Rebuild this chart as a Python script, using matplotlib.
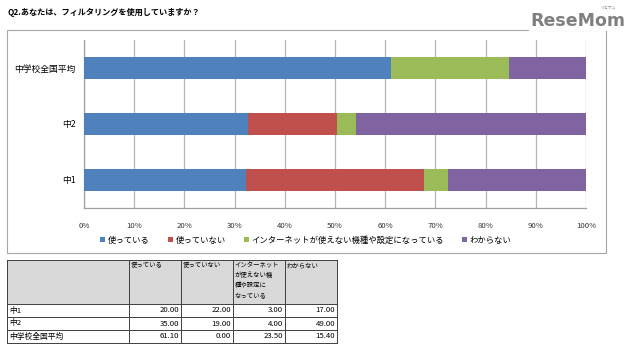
import matplotlib.pyplot as plt
from matplotlib.patches import Rectangle
import numpy as np

plt.rcParams['font.family'] = ['Noto Sans CJK JP', 'DejaVu Sans']

groups = ['中1', '中2', '中学校全国平均']
series = ['使っている', '使っていない', 'インターネットが使えない機種や設定になっている', 'わからない']
headers = ['使っている', '使っていない', 'インターネット\nが使えない機\n種や設定に\nなっている', 'わからない']
used = [20.00, 35.00, 61.10]
not_used = [22.00, 19.00, 0.00]
no_net = [3.00, 4.00, 23.50]
unknown = [17.00, 49.00, 15.40]
colors = ['#4F81BD', '#C0504D', '#9BBB59', '#8064A2']
xticks = [0, 10, 20, 30, 40, 50, 60, 70, 80, 90, 100]

vals = np.array([used, not_used, no_net, unknown])
shares = vals / vals.sum(axis=0) * 100

W, H = 640, 357
fig = plt.figure(figsize=(6.4, 3.57), dpi=100)

# overlay in pixel coords for frame, title, logo, table
ov = fig.add_axes([0, 0, 1, 1])
ov.set_xlim(0, W)
ov.set_ylim(H, 0)
ov.axis('off')

ov.add_patch(Rectangle((7, 30), 599, 223, fill=False, ec='#a6a6a6', lw=0.8))
ov.text(8, 12, 'Q2.あなたは、フィルタリングを使用していますか？', fontsize=5.9,
        fontweight='bold', va='center', ha='left')
ov.add_patch(Rectangle((529, 4), 98, 27, fc='white', ec='none'))
ov.text(578, 21, 'ReseMom', fontsize=12.5, fontweight='bold', color='#808080',
        ha='center', va='center', family=['DejaVu Sans'])
ov.text(608, 8, 'リセマム', fontsize=2.8, color='#808080', ha='center', va='center')

# chart
ax = fig.add_axes([84 / W, 1 - 208 / H, (586 - 84) / W, (208 - 40) / H])
y = np.arange(len(groups))
left = np.zeros(len(groups))
for i, s in enumerate(series):
    ax.barh(y, shares[i], left=left, height=0.4, color=colors[i], label=s, zorder=3)
    left += shares[i]
ax.set_xlim(0, 100)
ax.set_ylim(-0.5, 2.5)
ax.set_xticks(xticks)
ax.set_xticklabels([f'{t}%' for t in xticks], fontsize=5.6, color='#333333')
ax.set_yticks(y)
ax.set_yticklabels(groups, fontsize=6.3)
ax.tick_params(length=0, pad=10)
ax.tick_params(axis='y', pad=6)
ax.grid(axis='x', color='#b5b5b5', lw=0.9, zorder=0)
for sp in ['top', 'right']:
    ax.spines[sp].set_visible(False)
for sp in ['left', 'bottom']:
    ax.spines[sp].set_color('#a0a0a0')
    ax.spines[sp].set_linewidth(0.9)

fig.legend(loc='center', bbox_to_anchor=(306 / W, 1 - 240 / H), ncol=4, frameon=False,
           fontsize=6, handlelength=0.6, handleheight=0.6, handletextpad=0.3,
           columnspacing=2.2)

# table
colx = [7, 129, 181, 233, 285, 337]
rowy = [260, 304, 317, 330, 343]
ov.add_patch(Rectangle((colx[0], rowy[0]), colx[-1] - colx[0], rowy[1] - rowy[0],
                       fc='#d9d9d9', ec='none'))
for cx in colx:
    ov.plot([cx, cx], [rowy[0], rowy[-1]], color='#404040', lw=0.7)
for ry in rowy:
    ov.plot([colx[0], colx[-1]], [ry, ry], color='#404040', lw=0.7)
for j, h in enumerate(headers):
    ov.text(colx[j + 1] + 1.5, rowy[0] + 1.5, h, fontsize=4.6, va='top', ha='left',
            linespacing=1.3)
for i, g in enumerate(groups):
    yc = (rowy[i + 1] + rowy[i + 2]) / 2
    ov.text(colx[0] + 2, yc, g, fontsize=5.6, va='center', ha='left')
    for j in range(len(series)):
        ov.text(colx[j + 2] - 2, yc, f'{vals[j][i]:.2f}', fontsize=5.6,
                va='center', ha='right')

fig.savefig('out.png', dpi=100)
